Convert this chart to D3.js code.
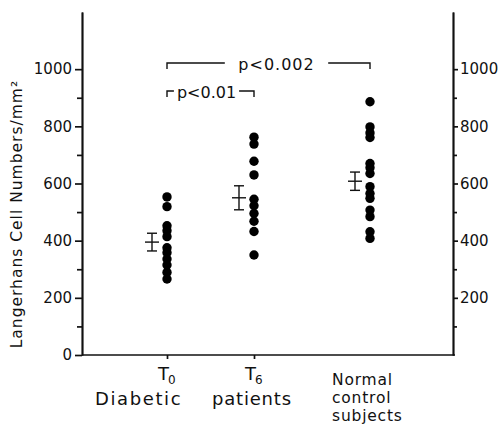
<!DOCTYPE html>
<html>
<head>
<meta charset="utf-8">
<script src="https://cdn.jsdelivr.net/npm/d3@7"></script>
<style>
  html, body { margin: 0; padding: 0; background: #fff; }
  svg { display: block; }
  text { font-family: "DejaVu Sans", sans-serif; fill: #111; }
</style>
</head>
<body>
<svg id="chart" width="500" height="427"></svg>
<script>
// ---------------- data ----------------
const categories = ["T0", "T6", "Normal"];
const diabeticT0 = [553, 519, 452, 435, 414, 375, 358, 336, 315, 289, 266];
const diabeticT6 = [762, 738, 678, 630, 545, 522, 495, 468, 432, 350];
const normalControls = [886, 798, 777, 761, 670, 655, 635, 589, 565, 548, 507, 484, 431, 408];
const groupMeans = [395, 550, 608];
const groupSEM = [31, 42, 32];
const majorTicks = [0, 200, 400, 600, 800, 1000];
const minorTicks = [100, 300, 500, 700, 900];
const comparisons = [
  { from: "T0", to: "T6", label: "p<0.01" },
  { from: "T0", to: "Normal", label: "p<0.002" }
];
const yAxisTitle = "Langerhans Cell Numbers/mm²";

// ---------------- layout ----------------
const svg = d3.select("#chart");
const leftX = 82, rightX = 453;
const y = d3.scaleLinear().domain([0, 1200]).range([355, 12]);
const x = d3.scaleOrdinal().domain(categories).range([167, 254, 370]);
const seriesByCat = { T0: diabeticT0, T6: diabeticT6, Normal: normalControls };
const axisStroke = 1.7;

function styleAxis(g) {
  g.selectAll("path, line").attr("stroke", "#111").attr("stroke-width", axisStroke);
  g.selectAll("text").attr("font-family", "DejaVu Sans, sans-serif").attr("font-size", 15).attr("fill", "#111");
}

// left axis
const gL = svg.append("g").attr("transform", `translate(${leftX},0)`)
  .call(d3.axisLeft(y).tickValues(majorTicks).tickSize(7).tickSizeOuter(0).tickPadding(3).tickFormat(d3.format("d")));
styleAxis(gL);
const gLm = svg.append("g").attr("transform", `translate(${leftX},0)`)
  .call(d3.axisLeft(y).tickValues(minorTicks).tickSize(5).tickSizeOuter(0).tickFormat(""));
styleAxis(gLm);

// right axis
const gR = svg.append("g").attr("transform", `translate(${rightX},0)`)
  .call(d3.axisRight(y).tickValues(majorTicks.filter(d => d > 0)).tickSize(5).tickSizeOuter(0).tickPadding(2).tickFormat(d3.format("d")));
styleAxis(gR);
const gRm = svg.append("g").attr("transform", `translate(${rightX},0)`)
  .call(d3.axisRight(y).tickValues(minorTicks).tickSize(4).tickSizeOuter(0).tickFormat(""));
styleAxis(gRm);

// baseline
svg.append("line").attr("x1", leftX).attr("x2", rightX + 2)
  .attr("y1", y(0)).attr("y2", y(0))
  .attr("stroke", "#111").attr("stroke-width", axisStroke);

// category ticks
const gB = svg.append("g").attr("transform", `translate(0,${y(0)})`)
  .call(d3.axisBottom(x).tickValues(["T0", "T6"]).tickSize(4).tickFormat(""));
gB.select(".domain").remove();
styleAxis(gB);

// y axis title
svg.append("text")
  .attr("transform", `translate(22,${(y(0) + y(1000)) / 2 + 2}) rotate(-90)`)
  .attr("text-anchor", "middle")
  .attr("font-size", 15.5)
  .attr("letter-spacing", 1)
  .text(yAxisTitle);

// dots
categories.forEach(c => {
  svg.append("g").selectAll("circle").data(seriesByCat[c]).join("circle")
    .attr("cx", x(c)).attr("cy", d => y(d)).attr("r", 4.7).attr("fill", "#000");
});

// error bars (mean ± SEM), drawn to the left of each column
const ebOffset = -15;
categories.forEach((c, i) => {
  const cx = x(c) + ebOffset;
  const g = svg.append("g").attr("stroke", "#111").attr("stroke-width", 1.4);
  g.append("line").attr("x1", cx).attr("x2", cx).attr("y1", y(groupMeans[i] + groupSEM[i])).attr("y2", y(groupMeans[i] - groupSEM[i]));
  g.append("line").attr("x1", cx - 5).attr("x2", cx + 5).attr("y1", y(groupMeans[i] + groupSEM[i])).attr("y2", y(groupMeans[i] + groupSEM[i]));
  g.append("line").attr("x1", cx - 5).attr("x2", cx + 5).attr("y1", y(groupMeans[i] - groupSEM[i])).attr("y2", y(groupMeans[i] - groupSEM[i]));
  g.append("line").attr("x1", cx - 7).attr("x2", cx + 7).attr("y1", y(groupMeans[i])).attr("y2", y(groupMeans[i]));
});

// significance brackets
const bracketY = [91, 63];
comparisons.forEach((cmp, i) => {
  const x1 = x(cmp.from), x2 = x(cmp.to), by = bracketY[i];
  const t = svg.append("text").attr("x", (x1 + x2) / 2 + (i === 0 ? -4 : 8)).attr("y", by + 7)
    .attr("text-anchor", "middle").attr("font-size", 16).attr("letter-spacing", i === 0 ? 0 : 1).text(cmp.label);
  const w = t.node().getComputedTextLength() + (i === 0 ? 0 : 7);
  const cxT = (x1 + x2) / 2 + (i === 0 ? -4 : 8);
  const gap = i === 0 ? 3 : 10;
  const g = svg.append("g").attr("stroke", "#111").attr("stroke-width", 1.4).attr("fill", "none");
  g.append("path").attr("d", `M${x1},${by + 6}V${by}H${cxT - w / 2 - gap}`);
  g.append("path").attr("d", `M${cxT + w / 2 + gap},${by}H${x2}V${by + 6}`);
});

// category labels
function subLabel(cx, main, sub) {
  const t = svg.append("text").attr("x", cx - 9).attr("y", 380).attr("font-size", 18);
  t.append("tspan").text(main);
  t.append("tspan").attr("font-size", 12).attr("dx", -1).attr("dy", 4).text(sub);
}
subLabel(x("T0"), "T", "0");
subLabel(x("T6"), "T", "6");
svg.append("text").attr("x", 95).attr("y", 405).attr("font-size", 18).attr("letter-spacing", 1.6).text("Diabetic");
svg.append("text").attr("x", 212).attr("y", 405).attr("font-size", 18).attr("letter-spacing", 0.8).text("patients");
["Normal", "control", "subjects"].forEach((s, i) => {
  svg.append("text").attr("x", 332).attr("y", 385 + i * 18).attr("font-size", 15.5).attr("letter-spacing", 0.8).text(s);
});
</script>
</body>
</html>
